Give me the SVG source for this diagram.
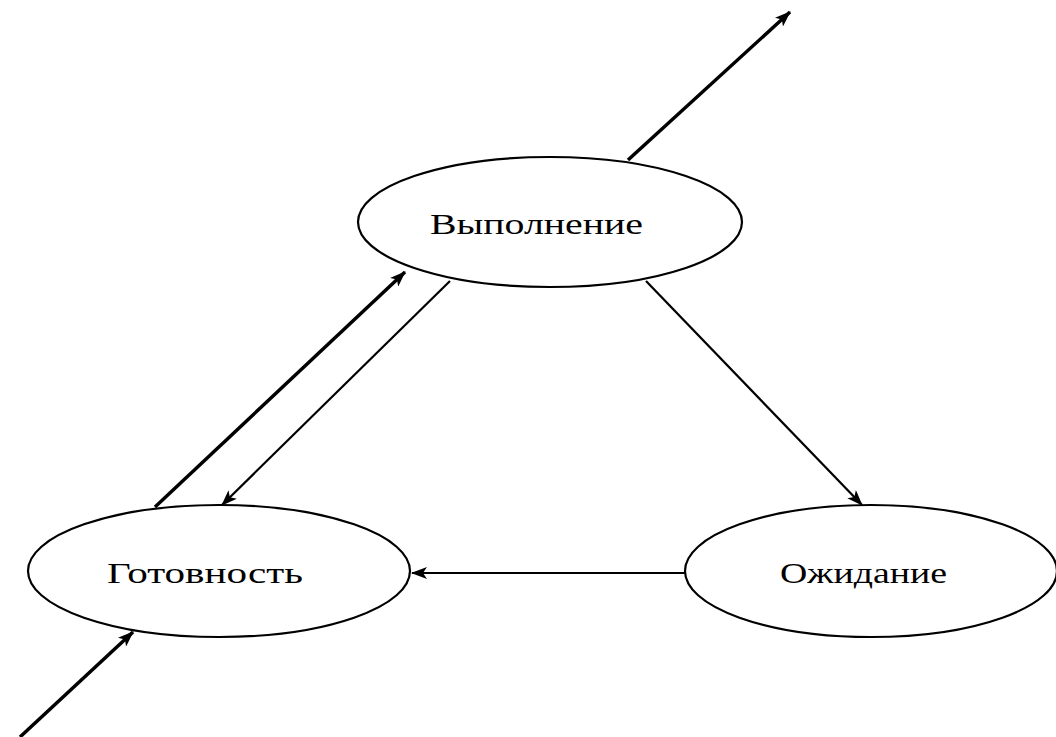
<svg xmlns="http://www.w3.org/2000/svg" width="1056" height="737" viewBox="0 0 1056 737">
<style>
.node ellipse{fill:#fff;stroke:#000;stroke-width:2.2}
.node text{font-family:"Liberation Serif","Times New Roman",serif;font-size:29px;fill:#000}
.conn line{stroke:#000;fill:none}
.thick{stroke-width:3.5}
.thin{stroke-width:2.2}
</style>
<defs>
<marker id="ah" viewBox="0 0 16 12" refX="15" refY="6" markerWidth="16" markerHeight="12" markerUnits="userSpaceOnUse" orient="auto">
<path d="M0,0 L16,6 L0,12 L4,6 Z" fill="#000"/>
</marker>
</defs>
<rect width="1056" height="737" fill="#fff"/>
<g class="conn">
<line class="thick" x1="628" y1="160" x2="790" y2="12" marker-end="url(#ah)"/>
<line class="thick" x1="20" y1="737" x2="133" y2="632" marker-end="url(#ah)"/>
<line class="thick" x1="155" y1="507" x2="405" y2="272" marker-end="url(#ah)"/>
<line class="thin" x1="450" y1="281" x2="222" y2="505" marker-end="url(#ah)"/>
<line class="thin" x1="646" y1="281" x2="862" y2="505" marker-end="url(#ah)"/>
<line class="thin" x1="685" y1="573" x2="412" y2="573" marker-end="url(#ah)"/>
</g>
<g id="node-vypolnenie" class="node">
<ellipse cx="550" cy="222" rx="192" ry="65"/>
<text x="430" y="234" textLength="213" lengthAdjust="spacingAndGlyphs">Выполнение</text>
</g>
<g id="node-gotovnost" class="node">
<ellipse cx="219" cy="571" rx="191" ry="66"/>
<text x="107" y="583" textLength="196" lengthAdjust="spacingAndGlyphs">Готовность</text>
</g>
<g id="node-ozhidanie" class="node">
<ellipse cx="871" cy="571" rx="186" ry="66"/>
<text x="780" y="583" textLength="167" lengthAdjust="spacingAndGlyphs">Ожидание</text>
</g>
</svg>
